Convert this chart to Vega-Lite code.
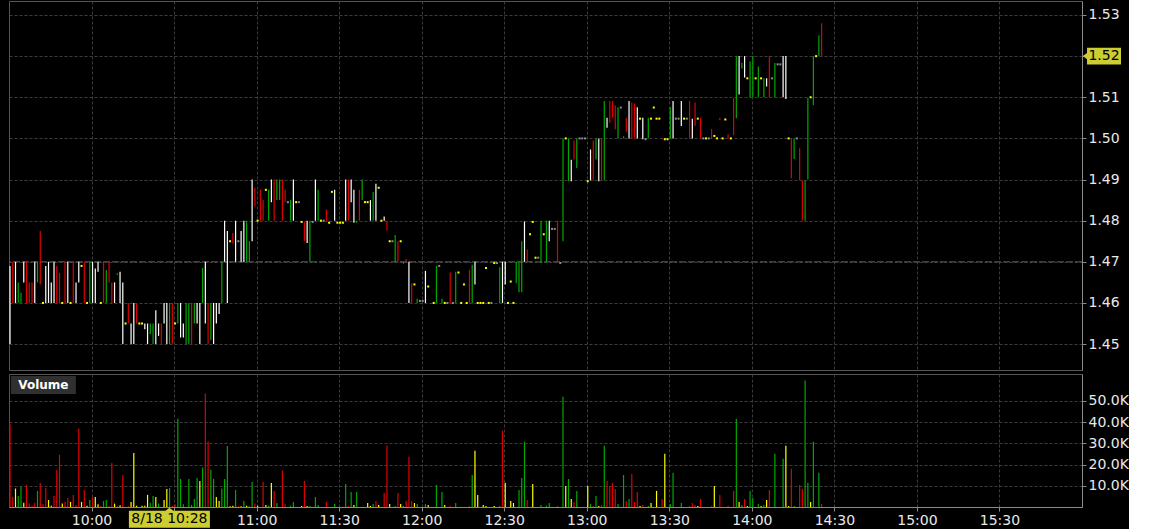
{
"$schema": "https://vega.github.io/schema/vega-lite/v6.json",
"background": "#000000",
"padding": {"left": 8, "top": 0, "right": 0, "bottom": 0},
"spacing": 2,
"config": {
  "view": {"stroke": "#555555", "strokeWidth": 1},
  "font": "DejaVu Sans",
  "axis": {"labelColor": "#e8e8e8", "labelFont": "DejaVu Sans", "labelFontSize": 14, "domainColor": "#8a8a8a", "tickColor": "#8a8a8a", "gridColor": "#3c3c3c", "gridDash": [3, 2], "gridWidth": 1, "title": null, "labelOverlap": false}
},
"datasets": {
"px": [
{"t":570,"lo":1.45,"hi":1.469,"c":"w"},{"t":571,"lo":1.46,"hi":1.47,"c":"r"},{"t":572,"lo":1.46,"hi":1.47,"c":"w"},{"t":573,"lo":1.46,"hi":1.465,"c":"g"},{"t":574,"lo":1.46,"hi":1.4625,"c":"g"},{"t":575,"lo":1.465,"hi":1.47,"c":"w"},{"t":576,"lo":1.46,"hi":1.47,"c":"r"},{"t":577,"lo":1.46,"hi":1.465,"c":"r"},{"t":578,"lo":1.46,"hi":1.465,"c":"r"},{"t":579,"lo":1.46,"hi":1.47,"c":"w"},
{"t":580,"lo":1.465,"hi":1.47,"c":"g"},{"t":581,"lo":1.4645,"hi":1.4775,"c":"r"},{"t":582,"lo":1.46,"hi":1.46,"c":"y"},{"t":583,"lo":1.46,"hi":1.469,"c":"w"},{"t":584,"lo":1.46,"hi":1.47,"c":"w"},{"t":585,"lo":1.46,"hi":1.465,"c":"w"},{"t":586,"lo":1.46,"hi":1.47,"c":"w"},{"t":587,"lo":1.46,"hi":1.469,"c":"r"},{"t":588,"lo":1.46,"hi":1.4673,"c":"r"},{"t":589,"lo":1.46,"hi":1.46,"c":"y"},
{"t":590,"lo":1.46,"hi":1.47,"c":"r"},{"t":591,"lo":1.46,"hi":1.47,"c":"w"},{"t":592,"lo":1.46,"hi":1.46,"c":"y"},{"t":593,"lo":1.46,"hi":1.47,"c":"r"},{"t":594,"lo":1.46,"hi":1.465,"c":"w"},{"t":595,"lo":1.465,"hi":1.47,"c":"w"},{"t":596,"lo":1.469,"hi":1.469,"c":"y"},{"t":597,"lo":1.46,"hi":1.47,"c":"r"},{"t":598,"lo":1.46,"hi":1.46,"c":"y"},{"t":599,"lo":1.46,"hi":1.47,"c":"g"},
{"t":600,"lo":1.46,"hi":1.47,"c":"w"},{"t":601,"lo":1.46,"hi":1.4684,"c":"w"},{"t":602,"lo":1.4676,"hi":1.47,"c":"w"},{"t":603,"lo":1.46,"hi":1.46,"c":"y"},{"t":604,"lo":1.46,"hi":1.47,"c":"r"},{"t":605,"lo":1.46,"hi":1.468,"c":"g"},{"t":606,"lo":1.465,"hi":1.47,"c":"r"},{"t":607,"lo":1.46,"hi":1.465,"c":"r"},{"t":608,"lo":1.46,"hi":1.465,"c":"w"},{"t":609,"lo":1.4668,"hi":1.4672,"c":"g"},
{"t":610,"lo":1.46,"hi":1.4676,"c":"w"},{"t":611,"lo":1.45,"hi":1.465,"c":"w"},{"t":612,"lo":1.455,"hi":1.455,"c":"y"},{"t":613,"lo":1.455,"hi":1.46,"c":"r"},{"t":614,"lo":1.45,"hi":1.455,"c":"w"},{"t":615,"lo":1.45,"hi":1.46,"c":"w"},{"t":616,"lo":1.455,"hi":1.46,"c":"r"},{"t":617,"lo":1.455,"hi":1.455,"c":"y"},{"t":618,"lo":1.455,"hi":1.455,"c":"y"},{"t":619,"lo":1.4536,"hi":1.455,"c":"w"},
{"t":620,"lo":1.45,"hi":1.455,"c":"w"},{"t":621,"lo":1.4524,"hi":1.455,"c":"g"},{"t":622,"lo":1.45,"hi":1.455,"c":"g"},{"t":623,"lo":1.45,"hi":1.4582,"c":"w"},{"t":624,"lo":1.452,"hi":1.455,"c":"w"},{"t":625,"lo":1.45,"hi":1.455,"c":"r"},{"t":626,"lo":1.455,"hi":1.46,"c":"w"},{"t":627,"lo":1.45,"hi":1.46,"c":"w"},{"t":628,"lo":1.45,"hi":1.46,"c":"g"},{"t":629,"lo":1.45,"hi":1.46,"c":"r"},
{"t":630,"lo":1.455,"hi":1.455,"c":"y"},{"t":631,"lo":1.455,"hi":1.46,"c":"g"},{"t":632,"lo":1.4516,"hi":1.46,"c":"w"},{"t":633,"lo":1.4516,"hi":1.455,"c":"w"},{"t":634,"lo":1.45,"hi":1.46,"c":"g"},{"t":635,"lo":1.45,"hi":1.46,"c":"g"},{"t":636,"lo":1.45,"hi":1.46,"c":"r"},{"t":637,"lo":1.455,"hi":1.46,"c":"g"},{"t":638,"lo":1.455,"hi":1.46,"c":"w"},{"t":639,"lo":1.45,"hi":1.46,"c":"w"},
{"t":640,"lo":1.46,"hi":1.4685,"c":"g"},{"t":641,"lo":1.455,"hi":1.47,"c":"w"},{"t":642,"lo":1.45,"hi":1.46,"c":"r"},{"t":643,"lo":1.451,"hi":1.46,"c":"g"},{"t":644,"lo":1.45,"hi":1.46,"c":"w"},{"t":645,"lo":1.455,"hi":1.46,"c":"w"},{"t":646,"lo":1.4573,"hi":1.46,"c":"w"},{"t":647,"lo":1.46,"hi":1.47,"c":"g"},{"t":648,"lo":1.47,"hi":1.48,"c":"w"},{"t":649,"lo":1.46,"hi":1.4775,"c":"w"},
{"t":650,"lo":1.475,"hi":1.475,"c":"y"},{"t":651,"lo":1.4745,"hi":1.477,"c":"r"},{"t":652,"lo":1.47,"hi":1.48,"c":"w"},{"t":653,"lo":1.475,"hi":1.475,"c":"s"},{"t":654,"lo":1.47,"hi":1.4775,"c":"w"},{"t":655,"lo":1.47,"hi":1.48,"c":"w"},{"t":656,"lo":1.47,"hi":1.48,"c":"g"},{"t":657,"lo":1.47,"hi":1.475,"c":"g"},{"t":658,"lo":1.475,"hi":1.49,"c":"w"},{"t":659,"lo":1.4835,"hi":1.488,"c":"r"},
{"t":660,"lo":1.48,"hi":1.48,"c":"y"},{"t":661,"lo":1.48,"hi":1.4875,"c":"r"},{"t":662,"lo":1.48,"hi":1.485,"c":"r"},{"t":663,"lo":1.4875,"hi":1.4875,"c":"y"},{"t":664,"lo":1.48,"hi":1.4875,"c":"g"},{"t":665,"lo":1.4845,"hi":1.49,"c":"w"},{"t":666,"lo":1.48,"hi":1.49,"c":"r"},{"t":667,"lo":1.485,"hi":1.49,"c":"g"},{"t":668,"lo":1.485,"hi":1.49,"c":"g"},{"t":669,"lo":1.48,"hi":1.49,"c":"r"},
{"t":670,"lo":1.4845,"hi":1.4875,"c":"r"},{"t":671,"lo":1.4845,"hi":1.4845,"c":"s"},{"t":672,"lo":1.48,"hi":1.485,"c":"g"},{"t":673,"lo":1.48,"hi":1.49,"c":"w"},{"t":674,"lo":1.4845,"hi":1.4845,"c":"y"},{"t":675,"lo":1.4845,"hi":1.4845,"c":"s"},{"t":676,"lo":1.4797,"hi":1.4797,"c":"y"},{"t":677,"lo":1.475,"hi":1.4797,"c":"r"},{"t":678,"lo":1.4746,"hi":1.48,"c":"w"},{"t":679,"lo":1.47,"hi":1.48,"c":"g"},
{"t":680,"lo":1.4797,"hi":1.4797,"c":"s"},{"t":681,"lo":1.48,"hi":1.49,"c":"w"},{"t":682,"lo":1.48,"hi":1.4875,"c":"g"},{"t":683,"lo":1.48,"hi":1.48,"c":"y"},{"t":684,"lo":1.48,"hi":1.48,"c":"s"},{"t":685,"lo":1.48,"hi":1.4827,"c":"r"},{"t":686,"lo":1.4795,"hi":1.4795,"c":"y"},{"t":687,"lo":1.487,"hi":1.487,"c":"y"},{"t":688,"lo":1.48,"hi":1.4875,"c":"w"},{"t":689,"lo":1.4795,"hi":1.4795,"c":"y"},
{"t":690,"lo":1.4795,"hi":1.4795,"c":"y"},{"t":691,"lo":1.4795,"hi":1.4795,"c":"y"},{"t":692,"lo":1.48,"hi":1.49,"c":"w"},{"t":693,"lo":1.48,"hi":1.49,"c":"r"},{"t":694,"lo":1.4845,"hi":1.49,"c":"w"},{"t":695,"lo":1.4795,"hi":1.4875,"c":"w"},{"t":696,"lo":1.4795,"hi":1.48,"c":"g"},{"t":697,"lo":1.48,"hi":1.4875,"c":"r"},{"t":698,"lo":1.485,"hi":1.49,"c":"g"},{"t":699,"lo":1.4845,"hi":1.4845,"c":"y"},
{"t":700,"lo":1.4845,"hi":1.4845,"c":"y"},{"t":701,"lo":1.48,"hi":1.485,"c":"w"},{"t":702,"lo":1.48,"hi":1.487,"c":"g"},{"t":703,"lo":1.48,"hi":1.489,"c":"w"},{"t":704,"lo":1.488,"hi":1.488,"c":"y"},{"t":705,"lo":1.48,"hi":1.48,"c":"y"},{"t":706,"lo":1.48,"hi":1.481,"c":"w"},{"t":707,"lo":1.4776,"hi":1.48,"c":"r"},{"t":708,"lo":1.475,"hi":1.475,"c":"y"},{"t":709,"lo":1.475,"hi":1.475,"c":"s"},
{"t":710,"lo":1.47,"hi":1.4765,"c":"g"},{"t":711,"lo":1.47,"hi":1.475,"c":"r"},{"t":712,"lo":1.475,"hi":1.475,"c":"y"},{"t":713,"lo":1.4695,"hi":1.47,"c":"g"},{"t":714,"lo":1.47,"hi":1.4707,"c":"r"},{"t":715,"lo":1.46,"hi":1.47,"c":"w"},{"t":716,"lo":1.46,"hi":1.4648,"c":"r"},{"t":717,"lo":1.4645,"hi":1.4645,"c":"y"},{"t":718,"lo":1.46,"hi":1.461,"c":"g"},{"t":719,"lo":1.4605,"hi":1.4605,"c":"s"},
{"t":720,"lo":1.4605,"hi":1.4605,"c":"s"},{"t":721,"lo":1.46,"hi":1.4678,"c":"w"},{"t":722,"lo":1.464,"hi":1.464,"c":"y"},{"t":724,"lo":1.46,"hi":1.46,"c":"y"},{"t":725,"lo":1.46,"hi":1.469,"c":"g"},{"t":726,"lo":1.469,"hi":1.469,"c":"s"},{"t":727,"lo":1.46,"hi":1.461,"c":"g"},{"t":728,"lo":1.46,"hi":1.46,"c":"y"},{"t":729,"lo":1.46,"hi":1.46,"c":"s"},
{"t":730,"lo":1.46,"hi":1.4674,"c":"r"},{"t":731,"lo":1.46,"hi":1.46,"c":"s"},{"t":732,"lo":1.46,"hi":1.4676,"c":"g"},{"t":733,"lo":1.4674,"hi":1.4674,"c":"y"},{"t":734,"lo":1.46,"hi":1.46,"c":"y"},{"t":735,"lo":1.4645,"hi":1.4645,"c":"y"},{"t":736,"lo":1.46,"hi":1.46,"c":"y"},{"t":737,"lo":1.46,"hi":1.468,"c":"r"},{"t":738,"lo":1.46,"hi":1.4693,"c":"g"},{"t":739,"lo":1.4645,"hi":1.47,"c":"w"},
{"t":740,"lo":1.46,"hi":1.46,"c":"y"},{"t":741,"lo":1.46,"hi":1.46,"c":"y"},{"t":742,"lo":1.46,"hi":1.46,"c":"y"},{"t":743,"lo":1.4685,"hi":1.4685,"c":"y"},{"t":744,"lo":1.46,"hi":1.46,"c":"y"},{"t":745,"lo":1.46,"hi":1.46,"c":"s"},{"t":746,"lo":1.4697,"hi":1.4697,"c":"y"},{"t":747,"lo":1.4697,"hi":1.4697,"c":"s"},{"t":748,"lo":1.46,"hi":1.4687,"c":"g"},{"t":749,"lo":1.46,"hi":1.47,"c":"w"},
{"t":750,"lo":1.4645,"hi":1.47,"c":"w"},{"t":751,"lo":1.46,"hi":1.46,"c":"y"},{"t":752,"lo":1.4652,"hi":1.4652,"c":"y"},{"t":753,"lo":1.46,"hi":1.46,"c":"y"},{"t":754,"lo":1.4648,"hi":1.47,"c":"g"},{"t":755,"lo":1.4626,"hi":1.47,"c":"g"},{"t":756,"lo":1.4626,"hi":1.475,"c":"g"},{"t":757,"lo":1.47,"hi":1.4798,"c":"w"},{"t":758,"lo":1.47,"hi":1.473,"c":"r"},{"t":759,"lo":1.4767,"hi":1.4767,"c":"y"},
{"t":760,"lo":1.4797,"hi":1.4797,"c":"y"},{"t":761,"lo":1.471,"hi":1.471,"c":"y"},{"t":762,"lo":1.471,"hi":1.471,"c":"s"},{"t":763,"lo":1.4697,"hi":1.48,"c":"g"},{"t":764,"lo":1.4767,"hi":1.4767,"c":"y"},{"t":765,"lo":1.47,"hi":1.48,"c":"g"},{"t":766,"lo":1.475,"hi":1.48,"c":"w"},{"t":767,"lo":1.478,"hi":1.478,"c":"s"},{"t":768,"lo":1.478,"hi":1.478,"c":"s"},{"t":769,"lo":1.47,"hi":1.48,"c":"r"},
{"t":770,"lo":1.4697,"hi":1.4697,"c":"s"},{"t":771,"lo":1.475,"hi":1.5,"c":"g"},{"t":772,"lo":1.5,"hi":1.5,"c":"y"},{"t":773,"lo":1.4896,"hi":1.5,"c":"g"},{"t":774,"lo":1.4896,"hi":1.4948,"c":"w"},{"t":775,"lo":1.4949,"hi":1.4995,"c":"r"},{"t":776,"lo":1.4928,"hi":1.5,"c":"g"},{"t":777,"lo":1.5,"hi":1.5,"c":"s"},{"t":778,"lo":1.5,"hi":1.5,"c":"s"},{"t":779,"lo":1.5,"hi":1.5,"c":"s"},
{"t":780,"lo":1.4896,"hi":1.4896,"c":"y"},{"t":781,"lo":1.4898,"hi":1.4973,"c":"w"},{"t":782,"lo":1.4898,"hi":1.4995,"c":"r"},{"t":783,"lo":1.4949,"hi":1.5,"c":"g"},{"t":784,"lo":1.4896,"hi":1.5,"c":"w"},{"t":785,"lo":1.4898,"hi":1.5,"c":"r"},{"t":786,"lo":1.4898,"hi":1.5091,"c":"g"},{"t":787,"lo":1.5026,"hi":1.505,"c":"w"},{"t":788,"lo":1.5038,"hi":1.5091,"c":"r"},{"t":789,"lo":1.505,"hi":1.5091,"c":"r"},
{"t":790,"lo":1.5022,"hi":1.508,"c":"r"},{"t":791,"lo":1.5,"hi":1.5076,"c":"g"},{"t":792,"lo":1.5075,"hi":1.5075,"c":"s"},{"t":793,"lo":1.5,"hi":1.5005,"c":"g"},{"t":794,"lo":1.5016,"hi":1.505,"c":"r"},{"t":795,"lo":1.5,"hi":1.5091,"c":"w"},{"t":796,"lo":1.5,"hi":1.5087,"c":"r"},{"t":797,"lo":1.5,"hi":1.5085,"c":"r"},{"t":798,"lo":1.5,"hi":1.5076,"c":"w"},{"t":799,"lo":1.5048,"hi":1.5048,"c":"y"},
{"t":800,"lo":1.4998,"hi":1.505,"c":"w"},{"t":801,"lo":1.4998,"hi":1.4998,"c":"s"},{"t":802,"lo":1.5,"hi":1.505,"c":"g"},{"t":803,"lo":1.5048,"hi":1.5048,"c":"y"},{"t":804,"lo":1.5075,"hi":1.5075,"c":"y"},{"t":805,"lo":1.5048,"hi":1.5048,"c":"y"},{"t":806,"lo":1.5048,"hi":1.5048,"c":"y"},{"t":807,"lo":1.4998,"hi":1.5,"c":"r"},{"t":808,"lo":1.4998,"hi":1.4998,"c":"y"},{"t":809,"lo":1.4998,"hi":1.4998,"c":"y"},
{"t":810,"lo":1.5,"hi":1.5076,"c":"g"},{"t":811,"lo":1.5,"hi":1.5091,"c":"w"},{"t":812,"lo":1.5048,"hi":1.5048,"c":"s"},{"t":813,"lo":1.5048,"hi":1.5048,"c":"s"},{"t":814,"lo":1.503,"hi":1.5091,"c":"w"},{"t":815,"lo":1.5048,"hi":1.5048,"c":"y"},{"t":816,"lo":1.5048,"hi":1.5048,"c":"s"},{"t":817,"lo":1.5,"hi":1.5091,"c":"r"},{"t":818,"lo":1.5,"hi":1.5048,"c":"w"},{"t":819,"lo":1.503,"hi":1.5087,"c":"r"},
{"t":820,"lo":1.5048,"hi":1.5048,"c":"y"},{"t":821,"lo":1.5,"hi":1.505,"c":"r"},{"t":822,"lo":1.5,"hi":1.5,"c":"s"},{"t":823,"lo":1.5,"hi":1.5,"c":"y"},{"t":824,"lo":1.5,"hi":1.5,"c":"s"},{"t":825,"lo":1.5,"hi":1.5023,"c":"r"},{"t":826,"lo":1.5006,"hi":1.5006,"c":"y"},{"t":827,"lo":1.5,"hi":1.5,"c":"y"},{"t":828,"lo":1.5044,"hi":1.505,"c":"r"},{"t":829,"lo":1.5,"hi":1.5,"c":"y"},
{"t":830,"lo":1.5046,"hi":1.5046,"c":"y"},{"t":831,"lo":1.5,"hi":1.501,"c":"r"},{"t":832,"lo":1.5,"hi":1.5,"c":"y"},{"t":833,"lo":1.5008,"hi":1.5098,"c":"r"},{"t":834,"lo":1.5049,"hi":1.52,"c":"g"},{"t":835,"lo":1.5107,"hi":1.52,"c":"w"},{"t":836,"lo":1.517,"hi":1.5184,"c":"g"},{"t":837,"lo":1.5148,"hi":1.52,"c":"w"},{"t":838,"lo":1.5146,"hi":1.5146,"c":"y"},{"t":839,"lo":1.51,"hi":1.5187,"c":"g"},
{"t":840,"lo":1.51,"hi":1.52,"c":"g"},{"t":841,"lo":1.5146,"hi":1.5146,"c":"y"},{"t":842,"lo":1.51,"hi":1.5175,"c":"g"},{"t":843,"lo":1.5146,"hi":1.5146,"c":"y"},{"t":844,"lo":1.51,"hi":1.5146,"c":"g"},{"t":845,"lo":1.5126,"hi":1.5146,"c":"w"},{"t":846,"lo":1.51,"hi":1.52,"c":"r"},{"t":847,"lo":1.5146,"hi":1.5146,"c":"s"},{"t":848,"lo":1.51,"hi":1.5183,"c":"g"},{"t":849,"lo":1.518,"hi":1.518,"c":"s"},
{"t":850,"lo":1.518,"hi":1.518,"c":"s"},{"t":851,"lo":1.51,"hi":1.52,"c":"w"},{"t":852,"lo":1.5096,"hi":1.52,"c":"w"},{"t":853,"lo":1.5,"hi":1.5,"c":"y"},{"t":854,"lo":1.4903,"hi":1.5,"c":"r"},{"t":855,"lo":1.495,"hi":1.5,"c":"g"},{"t":856,"lo":1.5,"hi":1.5,"c":"s"},{"t":857,"lo":1.4898,"hi":1.4976,"c":"r"},{"t":858,"lo":1.48,"hi":1.4898,"c":"r"},{"t":859,"lo":1.48,"hi":1.4898,"c":"g"},
{"t":860,"lo":1.49,"hi":1.5098,"c":"g"},{"t":861,"lo":1.51,"hi":1.51,"c":"y"},{"t":862,"lo":1.5081,"hi":1.52,"c":"g"},{"t":863,"lo":1.52,"hi":1.52,"c":"y"},{"t":864,"lo":1.52,"hi":1.5251,"c":"g"},{"t":865,"lo":1.52,"hi":1.528,"c":"r"}
],
"vol": [
{"t":570,"vk":39,"c":"r"},{"t":571,"vk":4.7,"c":"r"},{"t":572,"vk":8.7,"c":"y"},{"t":573,"vk":5.2,"c":"g"},{"t":574,"vk":9.4,"c":"g"},{"t":575,"vk":2,"c":"y"},{"t":576,"vk":10.4,"c":"r"},{"t":577,"vk":1.6,"c":"r"},{"t":578,"vk":0.6,"c":"r"},{"t":579,"vk":2,"c":"r"},
{"t":580,"vk":7.6,"c":"g"},{"t":581,"vk":11.3,"c":"r"},{"t":582,"vk":1.3,"c":"r"},{"t":583,"vk":9,"c":"r"},{"t":584,"vk":3.3,"c":"y"},{"t":585,"vk":0.6,"c":"y"},{"t":586,"vk":5.2,"c":"r"},{"t":587,"vk":17.5,"c":"r"},{"t":588,"vk":24.6,"c":"r"},{"t":589,"vk":1.6,"c":"y"},
{"t":590,"vk":2.4,"c":"r"},{"t":591,"vk":4.3,"c":"r"},{"t":592,"vk":2.4,"c":"y"},{"t":593,"vk":5.7,"c":"r"},{"t":594,"vk":1,"c":"r"},{"t":595,"vk":37,"c":"r"},{"t":596,"vk":2.4,"c":"y"},{"t":597,"vk":8,"c":"r"},{"t":598,"vk":0.6,"c":"y"},{"t":599,"vk":3.3,"c":"g"},
{"t":600,"vk":4.7,"c":"r"},{"t":601,"vk":4.7,"c":"y"},{"t":602,"vk":1.3,"c":"y"},{"t":603,"vk":0.6,"c":"r"},{"t":604,"vk":2.8,"c":"g"},{"t":605,"vk":3.3,"c":"g"},{"t":606,"vk":0.6,"c":"r"},{"t":607,"vk":20.8,"c":"r"},{"t":608,"vk":1.6,"c":"y"},{"t":609,"vk":0.6,"c":"r"},
{"t":610,"vk":0.8,"c":"y"},{"t":611,"vk":15.1,"c":"r"},{"t":613,"vk":0.3,"c":"r"},{"t":614,"vk":2.4,"c":"y"},{"t":615,"vk":25.5,"c":"y"},{"t":616,"vk":0.6,"c":"y"},{"t":618,"vk":0.6,"c":"y"},{"t":619,"vk":0.6,"c":"y"},
{"t":620,"vk":5.7,"c":"y"},{"t":621,"vk":2,"c":"g"},{"t":622,"vk":5.2,"c":"g"},{"t":623,"vk":4.7,"c":"y"},{"t":624,"vk":1.6,"c":"g"},{"t":626,"vk":3.3,"c":"y"},{"t":627,"vk":8.5,"c":"y"},{"t":628,"vk":9,"c":"g"},{"t":629,"vk":0.6,"c":"r"},
{"t":630,"vk":1.3,"c":"r"},{"t":631,"vk":41.6,"c":"g"},{"t":632,"vk":13.2,"c":"g"},{"t":633,"vk":1.3,"c":"g"},{"t":635,"vk":13.2,"c":"g"},{"t":636,"vk":1,"c":"g"},{"t":637,"vk":3.8,"c":"g"},{"t":638,"vk":13.7,"c":"g"},{"t":639,"vk":12.3,"c":"y"},
{"t":640,"vk":18.6,"c":"g"},{"t":641,"vk":53.5,"c":"r"},{"t":642,"vk":30.9,"c":"r"},{"t":643,"vk":17.6,"c":"g"},{"t":644,"vk":13.2,"c":"g"},{"t":645,"vk":4.7,"c":"y"},{"t":646,"vk":2.8,"c":"y"},{"t":647,"vk":8.7,"c":"g"},{"t":648,"vk":13.2,"c":"g"},{"t":649,"vk":28.8,"c":"g"},
{"t":650,"vk":0.3,"c":"y"},{"t":651,"vk":0.6,"c":"y"},{"t":652,"vk":8,"c":"g"},{"t":653,"vk":0.3,"c":"r"},{"t":654,"vk":0.3,"c":"y"},{"t":655,"vk":2.8,"c":"g"},{"t":656,"vk":0.6,"c":"y"},{"t":657,"vk":0.3,"c":"g"},{"t":658,"vk":11.8,"c":"g"},{"t":659,"vk":1.6,"c":"r"},
{"t":660,"vk":0.6,"c":"y"},{"t":662,"vk":11.8,"c":"r"},{"t":663,"vk":1,"c":"y"},{"t":664,"vk":0.6,"c":"g"},{"t":665,"vk":11.3,"c":"y"},{"t":666,"vk":7.6,"c":"r"},{"t":667,"vk":1.9,"c":"g"},{"t":669,"vk":17.2,"c":"r"},
{"t":670,"vk":1.3,"c":"r"},{"t":672,"vk":0.6,"c":"g"},{"t":673,"vk":2.4,"c":"g"},{"t":676,"vk":0.5,"c":"y"},{"t":677,"vk":12.3,"c":"r"},{"t":678,"vk":0.5,"c":"y"},{"t":679,"vk":0.5,"c":"g"},
{"t":681,"vk":4.7,"c":"g"},{"t":682,"vk":1,"c":"g"},{"t":685,"vk":2.4,"c":"r"},{"t":688,"vk":1.4,"c":"g"},
{"t":692,"vk":10.9,"c":"g"},{"t":693,"vk":0.5,"c":"r"},{"t":694,"vk":7.1,"c":"g"},{"t":695,"vk":1,"c":"y"},{"t":696,"vk":7.1,"c":"g"},
{"t":700,"vk":1.9,"c":"y"},{"t":701,"vk":0.5,"c":"y"},{"t":702,"vk":1.4,"c":"g"},{"t":703,"vk":2.8,"c":"r"},{"t":704,"vk":1,"c":"y"},{"t":706,"vk":6.6,"c":"r"},{"t":707,"vk":28.9,"c":"r"},{"t":708,"vk":1.4,"c":"y"},
{"t":710,"vk":0.5,"c":"g"},{"t":711,"vk":6.6,"c":"r"},{"t":712,"vk":1.4,"c":"y"},{"t":713,"vk":0.5,"c":"g"},{"t":714,"vk":2.8,"c":"r"},{"t":715,"vk":23.7,"c":"r"},{"t":716,"vk":2.8,"c":"r"},{"t":717,"vk":1.9,"c":"y"},{"t":718,"vk":1.4,"c":"g"},
{"t":721,"vk":1.4,"c":"g"},{"t":722,"vk":1,"c":"y"},{"t":725,"vk":10.4,"c":"g"},{"t":727,"vk":7.1,"c":"g"},{"t":728,"vk":1,"c":"y"},
{"t":730,"vk":0.5,"c":"r"},{"t":732,"vk":1.9,"c":"g"},{"t":737,"vk":0.5,"c":"r"},{"t":738,"vk":15.1,"c":"g"},{"t":739,"vk":26.5,"c":"y"},
{"t":740,"vk":5.7,"c":"y"},{"t":742,"vk":1,"c":"y"},{"t":743,"vk":0.5,"c":"y"},{"t":746,"vk":0.5,"c":"y"},{"t":748,"vk":0.5,"c":"g"},{"t":749,"vk":36,"c":"r"},
{"t":750,"vk":11.4,"c":"y"},{"t":752,"vk":2.8,"c":"y"},{"t":753,"vk":1.9,"c":"y"},{"t":755,"vk":8,"c":"g"},{"t":756,"vk":13.7,"c":"g"},{"t":757,"vk":30.8,"c":"g"},{"t":758,"vk":3.3,"c":"r"},
{"t":760,"vk":10.9,"c":"y"},{"t":763,"vk":1,"c":"g"},{"t":765,"vk":0.5,"c":"g"},{"t":766,"vk":1.9,"c":"g"},{"t":769,"vk":0.5,"c":"r"},
{"t":771,"vk":52,"c":"g"},{"t":772,"vk":9.9,"c":"y"},{"t":773,"vk":13.2,"c":"g"},{"t":774,"vk":3.8,"c":"y"},{"t":775,"vk":2.4,"c":"r"},{"t":776,"vk":7.6,"c":"g"},
{"t":780,"vk":9.9,"c":"y"},{"t":781,"vk":1.4,"c":"g"},{"t":782,"vk":0.5,"c":"r"},{"t":783,"vk":5.2,"c":"g"},{"t":784,"vk":0.5,"c":"y"},{"t":785,"vk":1,"c":"r"},{"t":786,"vk":28.9,"c":"g"},{"t":787,"vk":12.3,"c":"r"},{"t":788,"vk":9.9,"c":"r"},{"t":789,"vk":11.4,"c":"r"},
{"t":790,"vk":8.5,"c":"r"},{"t":791,"vk":1.4,"c":"g"},{"t":793,"vk":15.1,"c":"g"},{"t":794,"vk":2.8,"c":"r"},{"t":795,"vk":3.8,"c":"g"},{"t":796,"vk":15.6,"c":"r"},{"t":797,"vk":2.4,"c":"r"},{"t":798,"vk":7.1,"c":"r"},{"t":799,"vk":0.5,"c":"y"},
{"t":800,"vk":1,"c":"r"},{"t":802,"vk":0.5,"c":"g"},{"t":803,"vk":1.9,"c":"y"},{"t":805,"vk":7.6,"c":"y"},{"t":807,"vk":3.8,"c":"r"},{"t":808,"vk":25.1,"c":"y"},
{"t":810,"vk":1.4,"c":"g"},{"t":811,"vk":16.1,"c":"g"},{"t":814,"vk":1.9,"c":"g"},{"t":817,"vk":0.5,"c":"r"},{"t":818,"vk":1.9,"c":"r"},{"t":819,"vk":1,"c":"r"},
{"t":820,"vk":0.5,"c":"y"},{"t":821,"vk":3.8,"c":"r"},{"t":825,"vk":0.5,"c":"r"},{"t":826,"vk":9.9,"c":"y"},{"t":828,"vk":5.7,"c":"r"},
{"t":831,"vk":0.5,"c":"r"},{"t":833,"vk":7.6,"c":"r"},{"t":834,"vk":41.6,"c":"g"},{"t":835,"vk":2.4,"c":"y"},{"t":836,"vk":1,"c":"g"},{"t":837,"vk":3.8,"c":"r"},{"t":838,"vk":0.5,"c":"y"},{"t":839,"vk":7.6,"c":"g"},
{"t":840,"vk":4.3,"c":"g"},{"t":842,"vk":1.4,"c":"g"},{"t":843,"vk":0.5,"c":"y"},{"t":844,"vk":1,"c":"g"},{"t":845,"vk":3.3,"c":"y"},{"t":846,"vk":8,"c":"r"},{"t":848,"vk":25.1,"c":"g"},
{"t":851,"vk":22.7,"c":"g"},{"t":852,"vk":28.9,"c":"y"},{"t":853,"vk":0.5,"c":"y"},{"t":854,"vk":18,"c":"r"},{"t":855,"vk":0.5,"c":"g"},{"t":857,"vk":10.4,"c":"r"},{"t":858,"vk":8.5,"c":"r"},{"t":859,"vk":59.6,"c":"g"},
{"t":860,"vk":11.4,"c":"g"},{"t":861,"vk":2.4,"c":"y"},{"t":862,"vk":30.8,"c":"g"},{"t":864,"vk":16.1,"c":"g"},{"t":865,"vk":1.4,"c":"r"}
]
},
"vconcat": [
{
  "width": 1073,
  "height": 369,
  "layer": [
    {
      "data": {"values": [{}]},
      "mark": {"type": "rule", "color": "#5a5a5a", "strokeDash": [7, 2], "strokeWidth": 1},
      "encoding": {"y": {"datum": 1.47, "type": "quantitative"}}
    },
    {
      "data": {"name": "px"},
      "mark": {"type": "rule", "strokeWidth": 1.2, "xOffset": 1},
      "encoding": {
        "x": {"field": "t", "type": "quantitative",
              "scale": {"domain": [570, 960], "nice": false, "zero": false},
              "axis": {"values": [600, 630, 660, 690, 720, 750, 780, 810, 840, 870, 900, 930], "tickCount": 20, "labels": false, "ticks": false, "domain": false, "grid": true}},
        "y": {"field": "lo", "type": "quantitative",
              "scale": {"domain": [1.4437, 1.5334], "nice": false, "zero": false},
              "axis": {"orient": "right", "values": [1.45, 1.46, 1.47, 1.48, 1.49, 1.5, 1.51, 1.52, 1.53], "tickCount": 12, "format": ".2f", "grid": true, "tickSize": 4, "labelPadding": 2, "domain": true, "labelOverlap": false}},
        "y2": {"field": "hi"},
        "color": {"field": "c", "type": "nominal",
                  "scale": {"domain": ["w", "r", "g", "y", "s"], "range": ["#ffffff", "#e00000", "#00a800", "#ffff00", "#8c8c8c"]},
                  "legend": null}
      }
    },
    {
      "data": {"name": "px"},
      "transform": [{"filter": "datum.lo == datum.hi"}],
      "mark": {"type": "point", "shape": "square", "filled": true, "size": 4, "opacity": 1, "strokeWidth": 0, "xOffset": 1},
      "encoding": {
        "x": {"field": "t", "type": "quantitative"},
        "y": {"field": "lo", "type": "quantitative"},
        "color": {"field": "c", "type": "nominal", "legend": null}
      }
    },
    {
      "data": {"values": [{}]},
      "mark": {"type": "point", "shape": "M-1,0L-0.78,-0.16L-0.78,-0.43L0.98,-0.43L0.98,0.43L-0.78,0.43L-0.78,0.16Z", "size": 1490, "filled": true, "opacity": 1, "color": "#cccc33", "strokeWidth": 0},
      "encoding": {"x": {"datum": 967.3, "type": "quantitative"}, "y": {"datum": 1.52, "type": "quantitative"}}
    },
    {
      "data": {"values": [{}]},
      "mark": {"type": "text", "text": "1.52", "font": "DejaVu Sans", "fontSize": 14, "color": "#000000", "align": "center", "baseline": "middle"},
      "encoding": {"x": {"datum": 968, "type": "quantitative"}, "y": {"datum": 1.52, "type": "quantitative"}}
    }
  ]
},
{
  "width": 1073,
  "height": 133,
  "layer": [
    {
      "data": {"name": "vol"},
      "mark": {"type": "rule", "strokeWidth": 1.2, "xOffset": 1},
      "encoding": {
        "x": {"field": "t", "type": "quantitative",
              "scale": {"domain": [570, 960], "nice": false, "zero": false},
              "axis": {"values": [600, 630, 660, 690, 720, 750, 780, 810, 840, 870, 900, 930], "tickCount": 20, "grid": true, "tickSize": 4, "labelPadding": 2, "labelOverlap": false,
                       "labelExpr": "datum.value == 630 ? '' : floor(datum.value / 60) + ':' + (datum.value % 60 == 0 ? '00' : '30')"}},
        "y": {"field": "vk", "type": "quantitative",
              "scale": {"domain": [0, 62.7], "nice": false},
              "axis": {"orient": "right", "values": [10, 20, 30, 40, 50], "tickCount": 10, "grid": true, "tickSize": 4, "labelPadding": 2, "labelOverlap": false,
                       "labelExpr": "format(datum.value, '.1f') + 'K'"}},
        "y2": {"datum": 0},
        "color": {"field": "c", "type": "nominal",
                  "scale": {"domain": ["w", "r", "g", "y", "s"], "range": ["#ffffff", "#e00000", "#00a800", "#ffff00", "#8c8c8c"]},
                  "legend": null}
      }
    },
    {
      "data": {"values": [{}]},
      "mark": {"type": "point", "shape": "M-1,-0.277L1,-0.277L1,0.277L-1,0.277Z", "size": 4225, "filled": true, "opacity": 1, "color": "#303030", "strokeWidth": 0},
      "encoding": {"x": {"datum": 582.5, "type": "quantitative"}, "y": {"datum": 57.5, "type": "quantitative"}}
    },
    {
      "data": {"values": [{}]},
      "mark": {"type": "text", "text": "Volume", "font": "DejaVu Sans", "fontSize": 12, "fontWeight": "bold", "color": "#ffffff", "align": "center", "baseline": "middle"},
      "encoding": {"x": {"datum": 582.5, "type": "quantitative"}, "y": {"datum": 57.5, "type": "quantitative"}}
    },
    {
      "data": {"values": [{}]},
      "mark": {"type": "point", "shape": "M-1,-0.21L-0.1,-0.21L0,-0.284L0.1,-0.21L1,-0.21L1,0.21L-1,0.21Z", "size": 6561, "filled": true, "opacity": 1, "color": "#cccc33", "strokeWidth": 0},
      "encoding": {"x": {"datum": 628.3, "type": "quantitative"}, "y": {"datum": -5.8, "type": "quantitative"}}
    },
    {
      "data": {"values": [{}]},
      "mark": {"type": "text", "text": "8/18 10:28", "font": "DejaVu Sans", "fontSize": 14, "color": "#000000", "align": "center", "baseline": "middle"},
      "encoding": {"x": {"datum": 628.3, "type": "quantitative"}, "y": {"datum": -5.8, "type": "quantitative"}}
    }
  ]
}
]
}
